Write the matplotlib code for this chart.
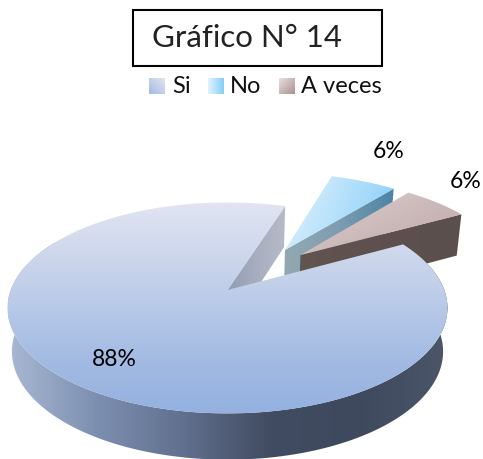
import numpy as np
import matplotlib
matplotlib.use("Agg")
import matplotlib.pyplot as plt
from matplotlib.colors import LinearSegmentedColormap
from matplotlib.patches import Polygon, Rectangle

labels = ["Si", "No", "A veces"]
values = [88, 6, 6]

# perspective of the pie, in pixels
cx, cy = 227.5, 308
A, B, C, k = 216.8, 105.5, 18.0, 0.17
start = 72
explode = [(0, 0), (0.284, 0.418), (0.3575, 0.363)]

fig = plt.figure(figsize=(4.83, 4.59), dpi=100)
ax = fig.add_axes([0, 0, 1, 1])


def top(u, v):
    w = 1 + k * v
    return cx + A * u / w, cy - (B * v + C) / w


def bottom(u, v):
    w = 1 + k * v
    return cx + 0.98 * A * u / w, cy + 43.6 - 1.025 * (B * v + C) / w


def arc(a1, a2, off, proj=top):
    t = np.radians(np.linspace(a1, a2, 160))
    x, y = proj(off[0] + np.cos(t), off[1] + np.sin(t))
    return np.column_stack([x, y])


def grad(verts, colors, angle=0, zorder=1):
    # angle 0 = left to right, 90 = top to bottom
    verts = np.array(verts)
    x0, y0 = verts.min(axis=0)
    x1, y1 = verts.max(axis=0)
    xx, yy = np.meshgrid(np.linspace(0, 1, 300), np.linspace(0, 1, 300))
    a = np.radians(angle)
    g = xx * np.cos(a) + yy * np.sin(a)
    g = (g - g.min()) / (g.max() - g.min())
    cmap = LinearSegmentedColormap.from_list("g", colors)
    im = ax.imshow(g, cmap=cmap, extent=[x0, x1, y1, y0], aspect="auto",
                   interpolation="bilinear", zorder=zorder, vmin=0, vmax=1)
    im.set_clip_path(Polygon(verts, closed=True, transform=ax.transData))


# slice angles come from the values, going clockwise
spans = [v / sum(values) * 360 for v in values]
big_end = start + spans[0]
no_1, no_2 = start - spans[1], start
av_1, av_2 = no_1 - spans[2], no_1

# no slice
off = explode[1]
ap = top(*off)
apb = bottom(*off)
tip = top(off[0] + np.cos(np.radians(no_1)), off[1] + np.sin(np.radians(no_1)))
tipb = bottom(off[0] + np.cos(np.radians(no_1)), off[1] + np.sin(np.radians(no_1)))
grad([ap, tip, tipb, apb], ["#93a9b2", "#7d9db0", "#4d84a6"], 0, 2)
grad(np.vstack([[ap], arc(no_1, no_2, off)]), ["#e2f3fd", "#b4e0fb", "#82ccf8"], 15, 3)

# a veces slice
off = explode[2]
ap = top(*off)
apb = bottom(*off)
tip = top(off[0] + np.cos(np.radians(av_1)), off[1] + np.sin(np.radians(av_1)))
tipb = bottom(off[0] + np.cos(np.radians(av_1)), off[1] + np.sin(np.radians(av_1)))
grad([ap, tip, tipb, apb], ["#62544f", "#5d504e", "#5b4f4e"], 0, 4)
grad(np.vstack([[ap], arc(av_1, av_2, off)]), ["#dfd3d3", "#cdbaba", "#bda7a6"], 40, 5)

# big slice: notch wall, outer wall, then the top face over them
off = explode[0]
ap = top(*off)
apb = bottom(*off)
tip = top(np.cos(np.radians(start)), np.sin(np.radians(start)))
tipb = bottom(np.cos(np.radians(start)), np.sin(np.radians(start)))
grad([ap, tip, tipb, apb], ["#929db3", "#a8aec0", "#b7bbc7"], 0, 6)

wall = np.vstack([arc(150, big_end, off), arc(150, big_end, off, bottom)[::-1]])
grad(wall, ["#a8b8d3", "#7d8fb0", "#606f8d", "#414b61", "#3f495e", "#4b5669"], 0, 7)
grad(np.vstack([[ap], arc(start, big_end, off)]),
     ["#e1e4f2", "#cdd7ec", "#b8c9e8", "#a3bbe3", "#94b1e0"], 90, 8)

# percent labels
pct_pos = [(114, 360), (389, 151), (466, 181)]
for v, (x, y) in zip(values, pct_pos):
    ax.text(x, y, f"{v}%", ha="center", va="center", fontsize=16.5,
            family="Lato", color="black", zorder=10)

# title box
ax.add_patch(Rectangle((132.5, 9.5), 249, 56.5, fill=False, edgecolor="black",
                       linewidth=1.5, zorder=10))
ax.text(247.5, 38, "Gráfico N° 14", ha="center", va="center", fontsize=22.5,
        family="Lato", color="#222222", zorder=10)

# legend
key_x = [149, 208, 279]
text_x = [172, 230, 301]
key_colors = [["#a2b9e2", "#e3e7f3"], ["#e0f3fd", "#85cef8"], ["#ecdede", "#a89190"]]
key_angle = [-45, 0, 45]
for lab, kx, tx, kc, ka in zip(labels, key_x, text_x, key_colors, key_angle):
    grad([(kx, 78), (kx + 16, 78), (kx + 16, 94), (kx, 94)], kc, ka, 10)
    ax.text(tx, 86.5, lab, ha="left", va="center", fontsize=17, family="Lato",
            color="#111111", zorder=10)

ax.set_xlim(0, 483)
ax.set_ylim(459, 0)
ax.axis("off")
fig.savefig("out.png", dpi=100)
